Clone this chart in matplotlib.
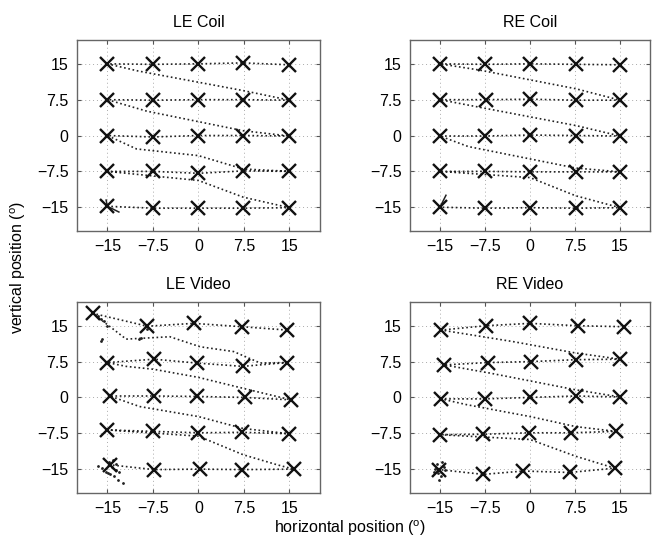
import matplotlib
matplotlib.use("Agg")
import matplotlib.pyplot as plt

plt.rcParams['font.family'] = ['Liberation Sans', 'DejaVu Sans']
plt.rcParams['mathtext.fontset'] = 'custom'
plt.rcParams['mathtext.rm'] = 'Liberation Sans'

ticks = [-15, -7.5, 0, 7.5, 15]
tick_labels = ['\u221215', '\u22127.5', '0', '7.5', '15']
titles = ['LE Coil', 'RE Coil', 'LE Video', 'RE Video']

# measured fixation positions, rows top -> bottom, columns left -> right
le_coil_x = [[-15, -7.5, -0.1, 7.4, 15], [-15, -7.4, -0.1, 7.3, 15],
             [-15, -7.5, 0, 7.4, 15], [-15, -7.5, 0, 7.4, 15],
             [-15, -7.5, 0, 7.4, 15]]
le_coil_y = [[15, 14.9, 15, 15.2, 14.8], [7.5, 7.4, 7.5, 7.5, 7.4],
             [0, -0.3, 0, 0, -0.1], [-7.5, -7.5, -7.9, -7.4, -7.5],
             [-14.8, -15.2, -15.2, -15.2, -15.1]]
re_coil_x = [[-15, -7.5, 0, 7.6, 15], [-15, -7.4, 0, 7.6, 15],
             [-15, -7.5, 0, 7.6, 15], [-15, -7.5, 0, 7.6, 15],
             [-15, -7.5, 0, 7.6, 15]]
re_coil_y = [[15, 14.9, 15, 14.9, 14.8], [7.5, 7.5, 7.6, 7.4, 7.4],
             [-0.1, -0.1, 0.1, 0, -0.1], [-7.5, -7.5, -7.6, -7.6, -7.6],
             [-15, -15.2, -15.1, -15.2, -15.1]]
le_video_x = [[-17.4, -8.4, -0.8, 7.2, 14.6], [-15, -7.3, -0.3, 7.3, 14.6],
              [-14.6, -7.3, -0.2, 7.6, 15.2], [-15, -7.4, 0, 7.2, 15],
              [-14.6, -7.3, 0.2, 7.2, 15.7]]
le_video_y = [[17.6, 14.9, 15.5, 14.8, 14.1], [7.3, 8.0, 7.2, 6.5, 7.3],
              [0.3, 0.3, 0.2, 0, -0.5], [-6.8, -7.1, -7.4, -7.3, -7.6],
              [-14.1, -15.1, -15, -15.1, -15]]
re_video_x = [[-14.8, -7.4, 0, 8.0, 15.6], [-14.3, -7.0, 0.2, 7.6, 15],
              [-14.8, -7.5, 0, 7.6, 15], [-15, -7.8, -0.2, 6.8, 14.3],
              [-15.1, -7.8, -1.1, 6.6, 14.1]]
re_video_y = [[14.1, 15.0, 15.5, 15.0, 14.8], [6.8, 7.3, 7.5, 7.9, 8.0],
              [-0.3, -0.3, 0, 0.3, 0.1], [-7.8, -7.7, -7.4, -7.4, -7.1],
              [-15.1, -16.1, -15.4, -15.7, -14.8]]

# intermediate points of the return sweeps (left edge of a row -> right edge of next row)
le_coil_dx = [[-9.9, 7.4], [-8.5, 7.4], [-10.2, 0, 7.4], [0, 7.4]]
le_coil_dy = [[13.5, 9.4], [5.1, 1.0], [-2.8, -4.2, -7.0], [-9.4, -12.9]]
re_coil_dx = [[-8.4, 7.6], [-7.5, 7.6], [-10.3, 7.6], [0, 7.6]]
re_coil_dy = [[13.7, 9.8], [5.7, 2.1], [-2.3, -6.8], [-8.8, -12.6]]
le_video_dx = [[-11.9, -4.7, 0.3, 5.8, 10.2], [-11.9, -7.4, 0, 7.4],
               [-9.7, 0, 7.4], [0, 7.4, 13]]
le_video_dy = [[12.2, 12.7, 10.6, 9.6, 7.2], [6.5, 5.9, 4.2, 1.9],
               [-1.9, -4.0, -6.5], [-8.1, -12.0, -14.1]]
re_video_dx = [[-2.9, 7.6], [-6.7, 7.6], [-10.6, 0, 7.6], [0, 7.6]]
re_video_dy = [[11.7, 9.3], [5.1, 1.6], [-1.5, -4.0, -6.1], [-8.8, -12.3]]

# loose samples (blinks / noise) in the video recordings
le_video_nx = [-14.8, -14.2, -13.6, -15.3, -14.5, -13.9, -13.2, -12.5, -14.0, -13.5,
               -16.5, -15.8, -14.9, -13.0, -16.5, -16.0, -15.5, -15.0, -15.8, -16.0,
               -9.5, -9.8, -8.4, 7.4, 14.6]
le_video_ny = [-13.5, -14.5, -15.2, -15.5, -16.0, -16.5, -17.2, -17.8, -13.0, -14.0,
               -14.3, -14.8, -15.8, -15.5, 17.0, 16.5, 16.0, 15.0, 12.2, 11.8,
               12.5, 12.3, 14.3, 14.5, 14.3]
re_video_nx = [-15.8, -15.5, -14.6, -14.3, -15.3, -14.8, -15.2, -16.0, -14.2]
re_video_ny = [-15.0, -14.0, -13.6, -14.5, -15.8, -16.5, -17.3, -15.5, -15.2]

# small hooks at the start point (-15, -15) in the coil recordings
le_coil_hx = [-15.2, -15, -13.1]
le_coil_hy = [-13.5, -14.8, -16.0]
re_coil_hx = [-14.0, -15]
re_coil_hy = [-12.5, -15]

panels = [
    (le_coil_x, le_coil_y, le_coil_dx, le_coil_dy, le_coil_hx, le_coil_hy),
    (re_coil_x, re_coil_y, re_coil_dx, re_coil_dy, re_coil_hx, re_coil_hy),
    (le_video_x, le_video_y, le_video_dx, le_video_dy, le_video_nx, le_video_ny),
    (re_video_x, re_video_y, re_video_dx, re_video_dy, re_video_nx, re_video_ny),
]

fig = plt.figure(figsize=(6.58, 5.4), dpi=100)
rects = [[0.117, 0.572, 0.369, 0.354], [0.623, 0.572, 0.365, 0.354],
         [0.117, 0.087, 0.369, 0.354], [0.623, 0.087, 0.365, 0.354]]

for k, (mx, my, dx, dy, ex, ey) in enumerate(panels):
    ax = fig.add_axes(rects[k])
    # build the scan path: each row right -> left, then sweep to next row
    tx, ty = [], []
    for r in range(5):
        tx += mx[r][::-1]
        ty += my[r][::-1]
        if r < 4:
            tx += dx[r]
            ty += dy[r]
    ax.plot(tx, ty, color='#222222', lw=1.2, linestyle=(0, (1, 1.6)), zorder=2)
    if k < 2:
        ax.plot(ex, ey, color='#222222', lw=1.1, zorder=2)
    else:
        ax.plot(ex, ey, linestyle='none', marker='.', markersize=2,
                color='#222222', zorder=2)
    for r in range(5):
        ax.plot(mx[r], my[r], linestyle='none', marker='x', markersize=10.5,
                markeredgewidth=1.7, color='#111111', zorder=3)

    ax.set_xlim(-20, 20)
    ax.set_ylim(-20, 20)
    ax.set_xticks(ticks)
    ax.set_xticklabels(tick_labels)
    ax.set_yticks(ticks)
    ax.set_yticklabels(tick_labels)
    ax.grid(True, linestyle=(0, (1, 3)), color='#aaaaaa', lw=0.7)
    ax.set_axisbelow(True)
    ax.tick_params(direction='in', length=3, top=True, right=True,
                   labelsize=11.5, color='#555555', pad=6)
    for s in ax.spines.values():
        s.set_color('#666666')
        s.set_linewidth(1.0)
    ax.set_title(titles[k], fontsize=11.5, pad=9)

fig.text(0.028, 0.505, 'vertical position ($^{\\mathrm{o}}$)', rotation=90,
         ha='center', va='center', fontsize=11.5)
fig.text(0.532, 0.022, 'horizontal position ($^{\\mathrm{o}}$)',
         ha='center', va='center', fontsize=11.5)

fig.savefig('out.png', dpi=100)
